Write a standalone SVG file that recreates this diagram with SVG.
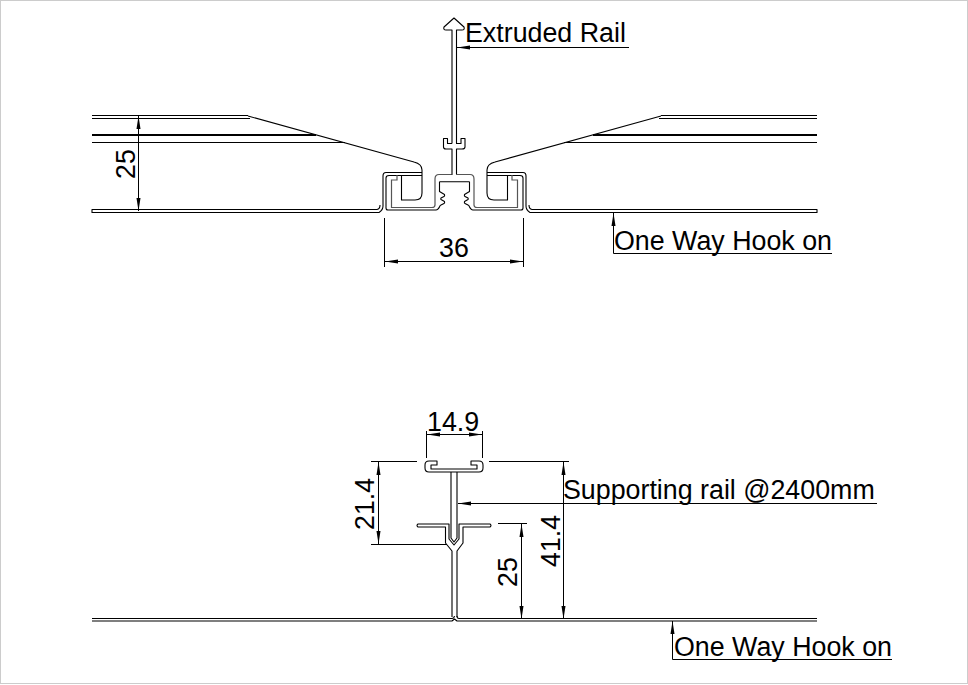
<svg xmlns="http://www.w3.org/2000/svg" width="968" height="685" viewBox="0 0 968 685">
<style>
.p{fill:none;stroke:#000;stroke-width:1.1;stroke-linejoin:round}
.g{fill:none;stroke:#555;stroke-width:1.2}
.d{fill:none;stroke:#000;stroke-width:1}
.a{fill:none;stroke:#000;stroke-width:1;marker-end:url(#ah)}
.b{fill:none;stroke:#000;stroke-width:1;marker-start:url(#ahs);marker-end:url(#ah)}
text{font-family:"Liberation Sans",Arial,sans-serif;font-size:26.8px;fill:#000}
</style>
<defs>
<marker id="ah" markerUnits="userSpaceOnUse" markerWidth="14" markerHeight="6" refX="13" refY="3" orient="auto"><path d="M0,1L13,3L0,5Z" fill="#000"/></marker>
<marker id="ahs" markerUnits="userSpaceOnUse" markerWidth="14" markerHeight="6" refX="1" refY="3" orient="auto"><path d="M14,1L1,3L14,5Z" fill="#000"/></marker>
<g id="half">
<path class="p" d="M248,115.500H92M92,118.500H250M92,142.500H345"/>
<path d="M92,135H316" fill="none" stroke="#000" stroke-width="2"/>
<path class="p" d="M248,116L414,162Q422,164 422,170V193Q422,200 415,200H401.500V175M422,172.500H386Q383,172.500 383,176V206Q383,210 379,212.500H92V209.500H377Q380,209 380,205"/>
<path class="p" d="M422,175.500H389Q386,175.500 386,178V208Q386,210 388,210H436Q438,210 440,206"/>
<path class="g" d="M397,175V180H391.500V207.500H432Q435,207.500 435,205V179Q435,174.500 439,174.500H452.500"/>
<path class="p" d="M439.500,181.700V191.500L444.500,194.500Q445,196 444,196.500L441,198Q440.500,199 441,199.500L444.500,201.500Q445,203 444,203.500L441,205Q440,205.500 440,206"/>
</g>
</defs>
<rect x="0.5" y="0.5" width="967" height="683" fill="#fff" stroke="#ccc"/>
<g id="rail-section-top">
<use id="left-half" href="#half"/>
<use id="right-half" href="#half" transform="translate(909,0) scale(-1,1)"/>
<path id="extruded-rail" class="p" d="M439.500,181.700H469.500M452,143.500V30H446Q443,30 444,27L454,18L464,27Q465,30 462,30H456.500V143.500H461V138.500H465V147Q465,149 462,149H456.500V174.500M452,174.500V149H446Q443.500,149 443.500,147V138.500H447.500V143.500H452"/>
</g>
<g id="rail-section-bottom">
<path class="p" d="M92,618.500H452Q454,618.500 454.500,616M457,616Q457,618.500 459,618.500H817M92,621H452L454.500,619L457,621H817"/>
<path class="p" d="M452,617V551L445.500,543V527H418Q416,525.500 418,524H449V539L454,545L459,539V524H490Q492,525.500 490,527H463V543L457,551V617"/>
<path class="p" d="M451,472V538L454,542L457,538V472"/>
<path class="p" d="M437,461H429Q425,461 425,465V468Q425,472 429,472H479Q483,472 483,468V465Q483,461 479,461H471V465H477V469H431V465H437Z"/>
</g>
<g id="connectors">
<path class="a" d="M629,47.500H457"/>
<path class="b" d="M138.500,116V211"/>
<path class="d" d="M384.500,218V267M523.500,218V267"/>
<path class="b" d="M385,261.500H523"/>
<path class="d" d="M832,253.500H613.500V228"/>
<path class="a" d="M613.500,253V213"/>
<path class="d" d="M426.500,458V431M482.500,458V431"/>
<path class="b" d="M427,434.500H482"/>
<path class="d" d="M371,461.500H417M489,461.500H569M371,544.500H447M498,523.500H527"/>
<path class="b" d="M378.500,462V544"/>
<path class="a" d="M877,503.500H458"/>
<path class="b" d="M521.500,524V619"/>
<path class="b" d="M563.500,462V619"/>
<path class="d" d="M892,659.500H672.500V640"/>
<path class="a" d="M672.500,659V621"/>
</g>
<g id="labels">
<text x="465" y="42">Extruded Rail</text>
<text transform="translate(135,179) rotate(-90)">25</text>
<text x="439" y="257">36</text>
<text x="614" y="250">One Way Hook on</text>
<text x="427" y="431">14.9</text>
<text transform="translate(374,530) rotate(-90)">21.4</text>
<text x="563" y="499">Supporting rail @2400mm</text>
<text transform="translate(517,587) rotate(-90)">25</text>
<text transform="translate(560,567) rotate(-90)">41.4</text>
<text x="674" y="656">One Way Hook on</text>
</g>
</svg>
